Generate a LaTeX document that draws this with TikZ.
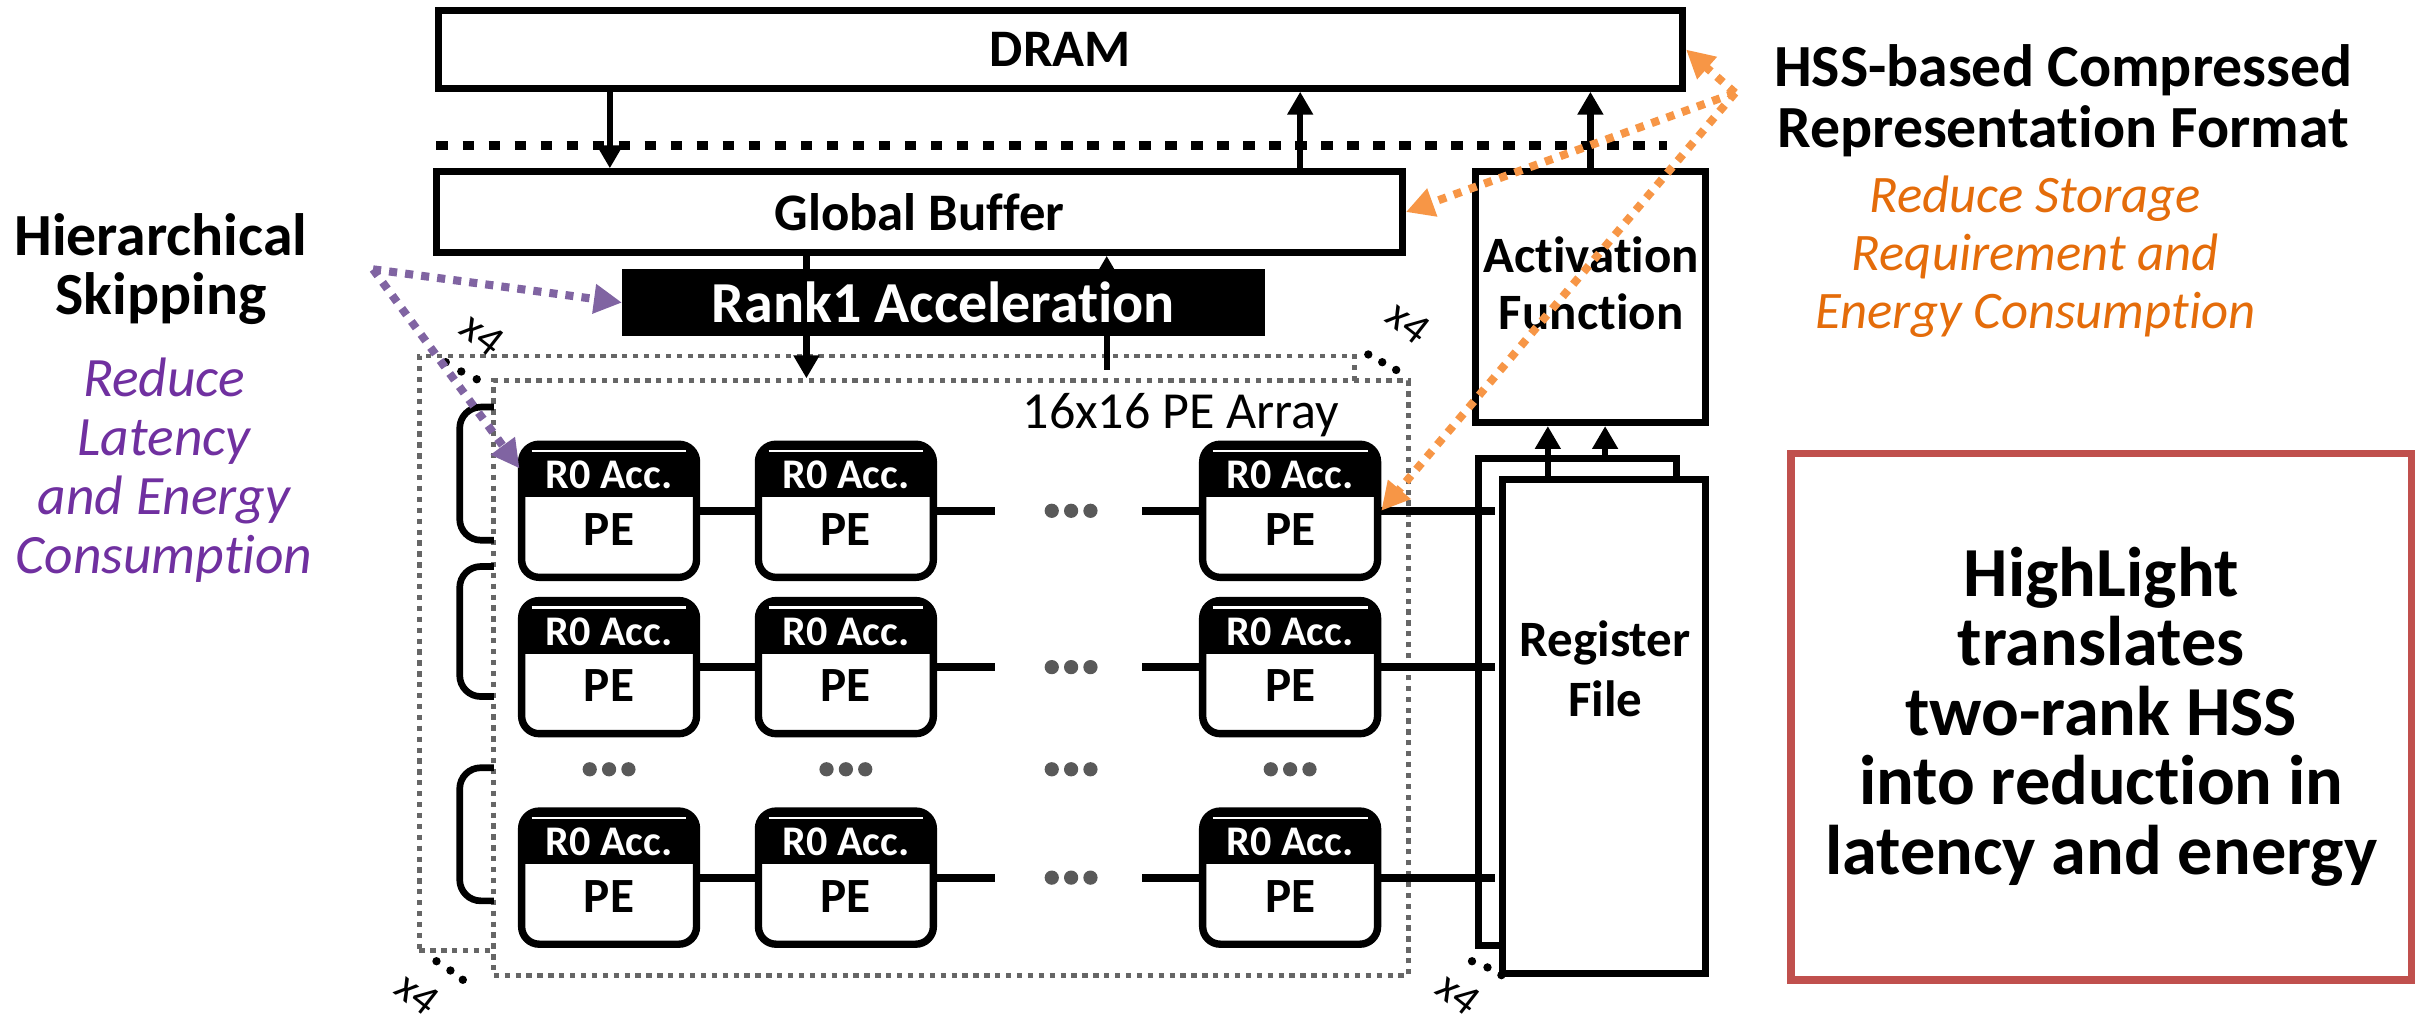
\documentclass[tikz,border=0pt]{standalone}
\usepackage{fontspec}
\setmainfont{Carlito}[Ligatures=NoCommon]
\usetikzlibrary{arrows.meta,calc}
\definecolor{ored}{HTML}{C0504D}
\definecolor{otxt}{HTML}{E46C0A}
\definecolor{oarr}{HTML}{F79646}
\definecolor{ptxt}{HTML}{7030A0}
\definecolor{parr}{HTML}{8064A2}
\definecolor{dgray}{HTML}{666666}
\definecolor{dotgray}{HTML}{595959}
\newcommand{\fs}[2]{\fontsize{#1}{#2}\selectfont}
\newcommand{\pebox}[3]{%
  \node[pe] (#1) at (#2,#3) {};
  \begin{scope}
    \clip ({#2-60},{#3-47}) rectangle ({#2+60},{#3-9});
    \fill[black, rounded corners=5pt] ({#2-56.5},{#3-43}) rectangle ({#2+56.5},{#3+43});
  \end{scope}
  \draw[white, line width=0.6pt] ({#2-50},{#3-38.5}) -- ({#2+50},{#3-38.5});
  \node[acctxt] (#1a) at (#2,{#3-23}) {R0 Acc.};
  \node[petxt] (#1b) at (#2,{#3+12}) {PE};
}
\newcommand{\gdots}[2]{%
  \fill[dotgray] ({#1-12.5},#2) circle (4.6) (#1,#2) circle (4.6) ({#1+12.5},#2) circle (4.6);
}
\newcommand{\kdots}[6]{%
  \fill[black] (#1,#2) circle (2.7) (#3,#4) circle (2.7) (#5,#6) circle (2.7);
}
\begin{document}
\begin{tikzpicture}[x=0.01548cm, y=-0.01548cm,
  sz/.style 2 args={minimum width={#1*0.01548cm}, minimum height={#2*0.01548cm}},
  blk/.style={draw=black, line width=2pt, fill=white, inner sep=0pt, align=center},
  ttl/.style={font=\bfseries\fs{15}{17}},
  arr/.style={line width=1.8pt, -{Triangle[length=6.5pt,width=7pt]}},
  ln/.style={line width=1.8pt},
  wire/.style={line width=2.3pt},
  pe/.style={draw=black, line width=2.1pt, fill=white, rounded corners=5pt, sz={113}{86}, inner sep=0pt},
  acctxt/.style={text=white, font=\bfseries\fs{12}{12}, inner sep=0pt},
  petxt/.style={font=\bfseries\fs{14}{14}, inner sep=0pt},
  gbox/.style={draw=dgray, line width=1.4pt, dash pattern=on 1.5pt off 1.6pt, fill=white, inner sep=0pt},
  blkdots/.style={draw=black, line width=2.8pt, dash pattern=on 3.3pt off 4.1pt},
  parrow/.style={draw=parr, line width=2.3pt, dash pattern=on 2.3pt off 2.3pt, -{Triangle[length=8pt,width=8pt]}, parr},
  oarrow/.style={draw=oarr, line width=2.3pt, dash pattern=on 2.3pt off 2.3pt, -{Triangle[length=8pt,width=8pt]}, oarr},
  brk/.style={line width=1.9pt, rounded corners=6pt},
  xfour/.style={font=\fs{12.5}{12.5}, rotate=-38, inner sep=0pt},
]
\useasboundingbox (0,0) rectangle (1568,658);

% helper x coordinates
\coordinate (xa) at (394,0);
\coordinate (xb) at (840,0);
\coordinate (xc) at (521,0);
\coordinate (xd) at (715,0);
\coordinate (xe) at (1000,0);
\coordinate (xf) at (1037,0);
\coordinate (bustip) at (966,0);
\coordinate (l2end) at (715,239);
\coordinate (hs) at (241,174);
\coordinate (os) at (1121,60);
\coordinate (dl1) at (282,94);
\coordinate (dl2) at (1077,94);

% memory boxes
\node[blk, ttl, sz={804}{50}] (dram) at (685,32) {DRAM};
\draw[blkdots] (dl1) -- (dl2);
\node[blk, ttl, sz={624}{52}] (gb) at (594,137) {Global Buffer};
\node[draw=black, fill=black, line width=1pt, inner sep=0pt, text=white, font=\bfseries\fs{16.5}{17}, sz={413}{41}] (rank) at (609.5,195.5) {Rank1 Acceleration};
\node[blk, sz={149}{162}] (act) at (1027.5,192) {};
\node[font=\bfseries\fs{14.5}{16.3}, align=center] (acttxt) at (1028,183) {Activation\\Function};

% arrows between levels
\draw[arr] (dram.south -| xa) -- (gb.north -| xa);
\draw[arr] (gb.north -| xb) -- (dram.south -| xb);
\draw[arr] (act.north) -- (act.north |- dram.south);
\draw[ln] (gb.south -| xc) -- (rank.north -| xc);
\draw[arr] (rank.north -| xd) -- (gb.south -| xd);

% PE array frames
\node[gbox, sz={604}{384}] (outer) at (573,422) {};
\node[gbox, sz={591}{384}] (inner) at (614.5,438) {};
\draw[arr] (rank.south -| xc) -- (inner.north -| xc);
\draw[ln] (rank.south -| xd) -- (l2end);
\node[font=\fs{14.8}{15}] (arraylbl) at (763,268) {16x16 PE Array};

% corner dots and x4
\kdots{288}{234}{298}{240}{308}{245}
\kdots{884}{229}{893}{234}{902}{239}
\kdots{282}{621}{291}{627}{299}{633}
\kdots{951}{621}{961}{625}{970}{630}
\node[xfour] (x4a) at (312,216) {x4};
\node[xfour] (x4b) at (910,208) {x4};
\node[xfour] (x4c) at (270,642) {x4};
\node[xfour] (x4d) at (942,642) {x4};

% brackets
\draw[brk] (319,263) -- (297,263) -- (297,349) -- (319,349);
\draw[brk] (319,366) -- (297,366) -- (297,450) -- (319,450);
\draw[brk] (319,496) -- (297,496) -- (297,582) -- (319,582);

% register file (back)
\node[blk, sz={128}{315}] (rfb) at (1019,453.5) {};

% PEs
\pebox{pe11}{393.5}{330}
\pebox{pe12}{546.5}{330}
\pebox{pe14}{833.5}{330}
\pebox{pe21}{393.5}{431}
\pebox{pe22}{546.5}{431}
\pebox{pe24}{833.5}{431}
\pebox{pe31}{393.5}{567}
\pebox{pe32}{546.5}{567}
\pebox{pe34}{833.5}{567}

% row wires
\coordinate (r1a) at (643,330); \coordinate (r1b) at (738,330);
\coordinate (r2a) at (643,431); \coordinate (r2b) at (738,431);
\coordinate (r3a) at (643,567); \coordinate (r3b) at (738,567);
\draw[wire] (pe11.east) -- (pe12.west) (pe12.east) -- (r1a) (r1b) -- (pe14.west) (pe14.east) -- (pe14.east -| bustip);
\draw[wire] (pe21.east) -- (pe22.west) (pe22.east) -- (r2a) (r2b) -- (pe24.west) (pe24.east) -- (pe24.east -| bustip);
\draw[wire] (pe31.east) -- (pe32.west) (pe32.east) -- (r3a) (r3b) -- (pe34.west) (pe34.east) -- (pe34.east -| bustip);
\gdots{692}{330}
\gdots{692}{431}
\gdots{692}{567}
\gdots{393.5}{497}
\gdots{546.5}{497}
\gdots{692}{497}
\gdots{833.5}{497}

% register file (front)
\node[blk, sz={131}{319}] (rff) at (1036.5,469.5) {};
\node[font=\bfseries\fs{14.5}{17}, align=center] (rftxt) at (1037,432) {Register\\File};
\draw[arr] (rff.north -| xe) -- (act.south -| xe);
\draw[arr] (rfb.north -| xf) -- (act.south -| xf);

% annotations
\node[font=\bfseries\fs{17}{16.7}, align=center] (hier) at (104,174) {Hierarchical\\Skipping};
\node[text=ptxt, font=\itshape\fs{15.8}{16.8}, align=center] (hiert) at (106,304) {Reduce\\Latency\\and Energy\\Consumption};
\node[font=\bfseries\fs{17}{17.2}, align=center] (hss) at (1333,65) {HSS-based Compressed\\Representation Format};
\node[text=otxt, font=\itshape\fs{15}{16.5}, align=center] (hsst) at (1315,166) {Reduce Storage\\Requirement and\\Energy Consumption};
\node[draw=ored, line width=2.2pt, sz={401}{340}, font=\bfseries\fs{20}{19.8}, align=center, inner sep=0pt] (hlbox) at (1357.5,463) {HighLight\\translates\\two-rank HSS\\into reduction in\\latency and energy};

% dotted annotation arrows
\draw[parrow] (hs) -- (rank.west);
\draw[parrow] (hs) -- ($(pe11.north west)+(1,18)$);
\draw[oarrow] (os) -- (dram.east);
\draw[oarrow] (os) -- (gb.east);
\draw[oarrow] (os) -- (pe14.east);
\end{tikzpicture}
\end{document}
